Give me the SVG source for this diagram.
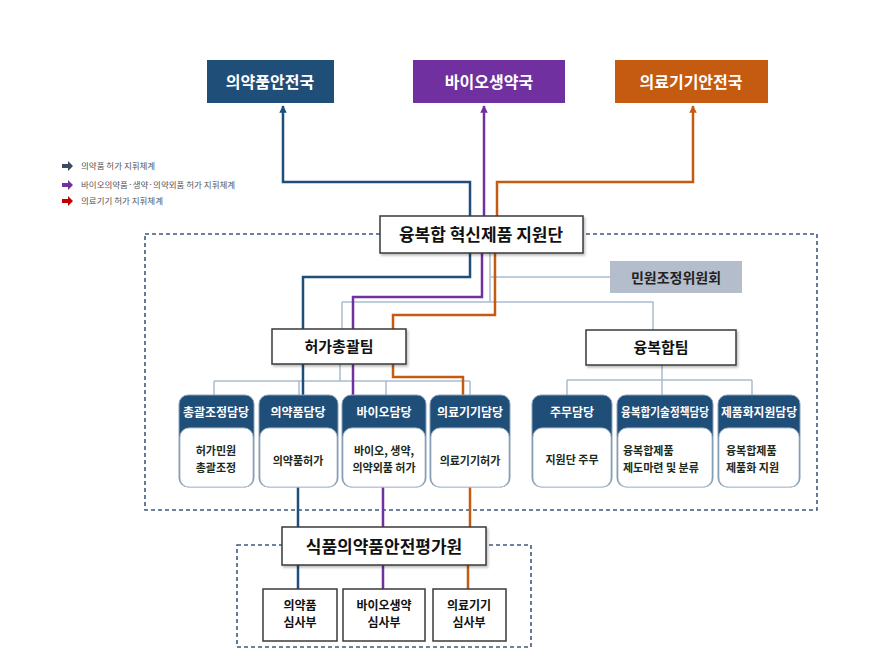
<svg xmlns="http://www.w3.org/2000/svg" width="889" height="667" viewBox="0 0 889 667">
<style>
text{font-family:"Noto Sans CJK KR","Noto Sans",sans-serif;font-weight:bold;text-anchor:middle}
.wt{fill:#fff}
.bx{fill:#fff;stroke:#3a3a3a;stroke-width:1.5}
.dash{fill:none;stroke:#3d5a80;stroke-width:1.6;stroke-dasharray:4,3}
.org{fill:none;stroke:#a9bccf;stroke-width:1.5}
.b{fill:none;stroke:#1f4e79;stroke-width:2.5}
.p{fill:none;stroke:#7030a0;stroke-width:2.5}
.o{fill:none;stroke:#c55a11;stroke-width:2.5}
.hd{fill:#1f4e79;stroke:#8da2b8;stroke-width:1}
.bd{fill:#fff;stroke:#b5c3d2;stroke-width:1}
.ht{fill:#fff;font-size:12px}
.bt{fill:#1c2a1c;font-size:11px}
.lg{fill:#555;font-size:8.5px;font-weight:normal;text-anchor:start}
</style>
<defs>
<marker id="ab" viewBox="0 0 10 10" refX="9" refY="5" markerWidth="3" markerHeight="3" orient="auto"><path d="M0,0 L10,5 L0,10 z" fill="#1f4e79"/></marker>
<marker id="ap" viewBox="0 0 10 10" refX="9" refY="5" markerWidth="3" markerHeight="3" orient="auto"><path d="M0,0 L10,5 L0,10 z" fill="#7030a0"/></marker>
<marker id="ao" viewBox="0 0 10 10" refX="9" refY="5" markerWidth="3" markerHeight="3" orient="auto"><path d="M0,0 L10,5 L0,10 z" fill="#c55a11"/></marker>
<filter id="sh" x="-10%" y="-10%" width="130%" height="140%"><feDropShadow dx="1.5" dy="2" stdDeviation="1.2" flood-color="#000" flood-opacity="0.25"/></filter>
</defs>
<rect width="889" height="667" fill="#fff"/>

<!-- legend -->
<g id="legend">
<polygon points="62,164 68,164 68,161 73,166 68,171 68,168 62,168" fill="#3b4a5e"/>
<text class="lg" x="81" y="169">의약품 허가 지휘체계</text>
<polygon points="62,183 68,183 68,180 73,185 68,190 68,187 62,187" fill="#7030a0"/>
<text class="lg" x="81" y="188">바이오의약품·생약·의약외품 허가 지휘체계</text>
<polygon points="62,199 68,199 68,196 73,201 68,206 68,203 62,203" fill="#c00000"/>
<text class="lg" x="81" y="204">의료기기 허가 지휘체계</text>
</g>

<!-- dashed groups -->
<rect class="dash" x="145" y="234" width="672" height="276"/>
<rect class="dash" x="237" y="545" width="294" height="102"/>

<g id="connectors">
<!-- org grey lines -->
<path class="org" d="M490,253 V302 M342,302 H653 V330 M342,302 V329"/>
<path class="org" d="M490,277 H610"/>
<path class="org" d="M340,364 V381 M214,381 H470 M214,381 V395 M299,381 V395 M386,381 V395 M470,381 V395"/>
<path class="org" d="M662,365 V380 M567,380 H752 M567,380 V395 M662,380 V395 M752,380 V395"/>
<!-- command lines up -->
<path class="b" d="M470,216 V182 H283 V106" marker-end="url(#ab)"/>
<path class="p" d="M484,216 V106" marker-end="url(#ap)"/>
<path class="o" d="M497,216 V182 H693 V106" marker-end="url(#ao)"/>
<!-- command lines down -->
<path class="b" d="M470,253 V277 H303 V329 M303,364 V395 M298,487 V527 M298,565 V589"/>
<path class="p" d="M482,253 V297 H353 V329 M353,364 V395 M383,487 V527 M383,565 V589"/>
<path class="o" d="M495,253 V315 H393 V329 M393,364 V377 H463 V395 M470,487 V527 M468,565 V589"/>
</g>

<!-- top bureaus -->
<g id="n-drug"><rect x="207" y="60" width="127" height="43" fill="#1f4e79"/><text class="wt" x="270" y="88" font-size="16">의약품안전국</text></g>
<g id="n-bio"><rect x="413" y="60" width="152" height="43" fill="#7030a0"/><text class="wt" x="489" y="88" font-size="16">바이오생약국</text></g>
<g id="n-dev"><rect x="615" y="60" width="153" height="43" fill="#c55a11"/><text class="wt" x="691" y="88" font-size="16">의료기기안전국</text></g>

<g id="n-center"><rect class="bx" x="380" y="216" width="203" height="37" filter="url(#sh)"/><text x="481" y="241" font-size="17" fill="#111">융복합 혁신제품 지원단</text></g>
<g id="n-committee"><rect x="610" y="261" width="132" height="32" fill="#b4bdcc"/><text x="676" y="283" font-size="14" fill="#222">민원조정위원회</text></g>
<g id="n-permit"><rect class="bx" x="272" y="329" width="134" height="35" filter="url(#sh)"/><text x="339" y="352" font-size="15" fill="#111">허가총괄팀</text></g>
<g id="n-conv"><rect class="bx" x="586" y="330" width="150" height="35" filter="url(#sh)"/><text x="661" y="353" font-size="15" fill="#111">융복합팀</text></g>

<!-- sub units -->
<g id="u1"><rect class="hd" x="179" y="395" width="75" height="92" rx="9"/><rect class="bd" x="180" y="428" width="73" height="59" rx="9"/><text class="ht" x="216" y="417">총괄조정담당</text><text class="bt" x="216" y="455">허가민원</text><text class="bt" x="216" y="472">총괄조정</text></g>
<g id="u2"><rect class="hd" x="259" y="395" width="79" height="92" rx="9"/><rect class="bd" x="260" y="428" width="77" height="59" rx="9"/><text class="ht" x="298" y="417">의약품담당</text><text class="bt" x="298" y="465">의약품허가</text></g>
<g id="u3"><rect class="hd" x="342" y="395" width="84" height="92" rx="9"/><rect class="bd" x="343" y="428" width="82" height="59" rx="9"/><text class="ht" x="384" y="417">바이오담당</text><text class="bt" x="384" y="455">바이오, 생약,</text><text class="bt" x="384" y="472">의약외품 허가</text></g>
<g id="u4"><rect class="hd" x="430" y="395" width="80" height="92" rx="9"/><rect class="bd" x="431" y="428" width="78" height="59" rx="9"/><text class="ht" x="470" y="417">의료기기담당</text><text class="bt" x="470" y="465">의료기기허가</text></g>
<g id="u5"><rect class="hd" x="532" y="395" width="80" height="92" rx="9"/><rect class="bd" x="533" y="428" width="78" height="59" rx="9"/><text class="ht" x="572" y="417">주무담당</text><text class="bt" x="572" y="464">지원단 주무</text></g>
<g id="u6"><rect class="hd" x="617" y="395" width="96" height="92" rx="9"/><rect class="bd" x="618" y="428" width="94" height="59" rx="9"/><text class="ht" x="665" y="417" font-size="10" textLength="88" lengthAdjust="spacingAndGlyphs">융복합기술정책담당</text><text class="bt" x="623" y="455" style="text-anchor:start">융복합제품</text><text class="bt" x="623" y="472" style="text-anchor:start">제도마련 및 분류</text></g>
<g id="u7"><rect class="hd" x="718" y="395" width="82" height="92" rx="9"/><rect class="bd" x="719" y="428" width="80" height="59" rx="9"/><text class="ht" x="759" y="417" font-size="11" textLength="76" lengthAdjust="spacingAndGlyphs">제품화지원담당</text><text class="bt" x="726" y="455" style="text-anchor:start">융복합제품</text><text class="bt" x="726" y="472" style="text-anchor:start">제품화 지원</text></g>

<g id="n-nifds"><rect class="bx" x="282" y="527" width="204" height="38" filter="url(#sh)"/><text x="384" y="553" font-size="17" fill="#111">식품의약품안전평가원</text></g>
<g id="r1"><rect class="bx" x="263" y="589" width="74" height="52"/><text x="300" y="610" font-size="12" fill="#111">의약품</text><text x="300" y="627" font-size="12" fill="#111">심사부</text></g>
<g id="r2"><rect class="bx" x="343" y="589" width="82" height="52"/><text x="384" y="610" font-size="12" fill="#111">바이오생약</text><text x="384" y="627" font-size="12" fill="#111">심사부</text></g>
<g id="r3"><rect class="bx" x="433" y="589" width="73" height="52"/><text x="469" y="610" font-size="12" fill="#111">의료기기</text><text x="469" y="627" font-size="12" fill="#111">심사부</text></g>
</svg>
